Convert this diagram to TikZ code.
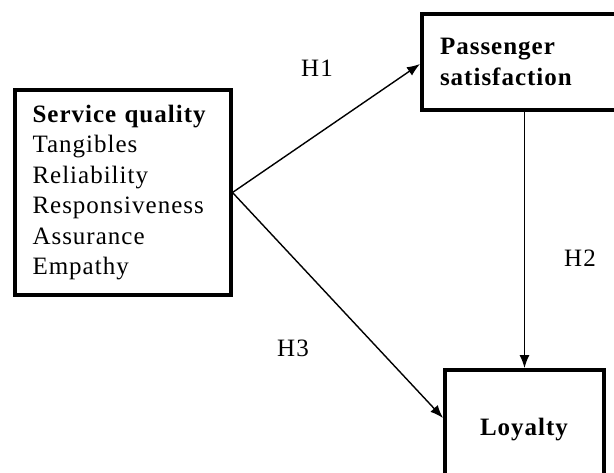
\documentclass[tikz,border=0pt]{standalone}
\usepackage{fontspec}
\setmainfont[LetterSpace=4]{Liberation Serif}
\usepackage{tikz}
\usetikzlibrary{arrows.meta,positioning}

\tikzset{
	modelbox/.style={draw,line width=4pt,inner xsep=18pt,inner ysep=0pt},
	hyp/.style={-{Latex[length=13pt,width=10pt]},line width=1.4pt},
}

\begin{document}
\begin{tikzpicture}[x=1pt,y=-1pt,font=\fontsize{25}{30.5}\selectfont]
		\useasboundingbox (0,0) rectangle (614,472);
		\node[modelbox,align=left,text width=180pt,minimum height=205pt] (S) at (122.5,192.5)
			{\textbf{Service quality}\\Tangibles\\Reliability\\Responsiveness\\Assurance\\Empathy};
		\node[modelbox,anchor=west,align=left,text width=184pt,minimum height=96pt] (P) at (420,62)
			{\textbf{Passenger}\\\textbf{satisfaction}};
		\node[modelbox,minimum width=159pt,minimum height=120pt] (L) at (524.5,430) {\textbf{Loyalty}};
		%
		\node (H1) at (317,68) {H1};
		\node (H2) at (580,258) {H2};
		\node (H3) at (293,348) {H3};
		%
		\draw[hyp] (S.east) -- ([yshift=-2pt]P.west);
		\draw[hyp] (S.east) -- ([yshift=12pt]L.west);
		\draw[hyp] (P.south -| L.north) -- (L.north);
		\end{tikzpicture}
\end{document}
